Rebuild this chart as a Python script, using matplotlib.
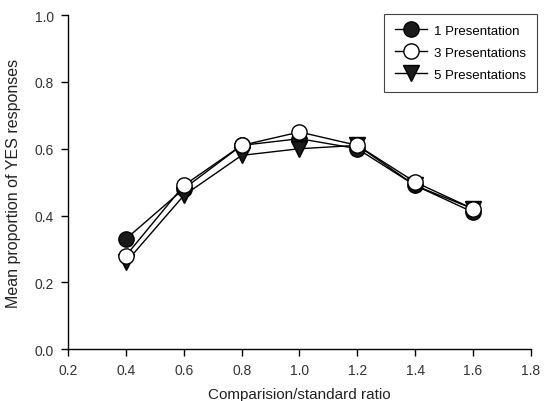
import matplotlib
matplotlib.use('Agg')
import matplotlib.pyplot as plt

plt.rcParams['font.family'] = ['Liberation Sans', 'DejaVu Sans']

# Data
ratio = [0.4, 0.6, 0.8, 1.0, 1.2, 1.4, 1.6]
pres1 = [0.33, 0.48, 0.61, 0.63, 0.60, 0.49, 0.41]
pres3 = [0.28, 0.49, 0.61, 0.65, 0.61, 0.50, 0.42]
pres5 = [0.26, 0.46, 0.58, 0.60, 0.61, 0.49, 0.42]

xticks = [0.2, 0.4, 0.6, 0.8, 1.0, 1.2, 1.4, 1.6, 1.8]
yticks = [0.0, 0.2, 0.4, 0.6, 0.8, 1.0]

fig = plt.figure(figsize=(5.45, 4.02), dpi=100)
ax = fig.add_axes([0.125, 0.129, 0.849, 0.831])

ms = 11
h1, = ax.plot(ratio, pres1, '-', color='black', lw=1, marker='o', ms=ms,
              mfc='#1a1a1a', mec='black', mew=1, label='1 Presentation', zorder=3)
h5, = ax.plot(ratio, pres5, '-', color='black', lw=1, marker='v', ms=ms + 1,
              mfc='#1a1a1a', mec='black', mew=1, label='5 Presentations', zorder=4)
h3, = ax.plot(ratio, pres3, '-', color='black', lw=1, marker='o', ms=ms,
              mfc='white', mec='black', mew=1, label='3 Presentations', zorder=5)

ax.set_xlim(0.2, 1.8)
ax.set_ylim(0.0, 1.0)
ax.set_xticks(xticks)
ax.set_yticks(yticks)
ax.set_xticklabels([f'{t:.1f}' for t in xticks])
ax.set_yticklabels([f'{t:.1f}' for t in yticks])
ax.tick_params(direction='out', length=5, width=1, labelsize=10,
               labelcolor='#333333', pad=5)
for s in ['top', 'right']:
    ax.spines[s].set_visible(False)
for s in ['left', 'bottom']:
    ax.spines[s].set_linewidth(1)

ax.set_xlabel('Comparision/standard ratio', fontsize=11, labelpad=7, color='#222222')
ax.set_ylabel('Mean proportion of YES responses', fontsize=11.5, labelpad=10, color='#222222')

leg = fig.legend(handles=[h1, h3, h5], loc='upper right',
                 bbox_to_anchor=(537 / 545, 1 - 15 / 402), borderaxespad=0,
                 fontsize=9.5, frameon=True, fancybox=False, framealpha=1,
                 edgecolor='#444444', handlelength=2.4, borderpad=0.8,
                 labelspacing=0.75, handletextpad=0.6)
leg.get_frame().set_linewidth(0.8)

fig.savefig('out.png', dpi=100)
